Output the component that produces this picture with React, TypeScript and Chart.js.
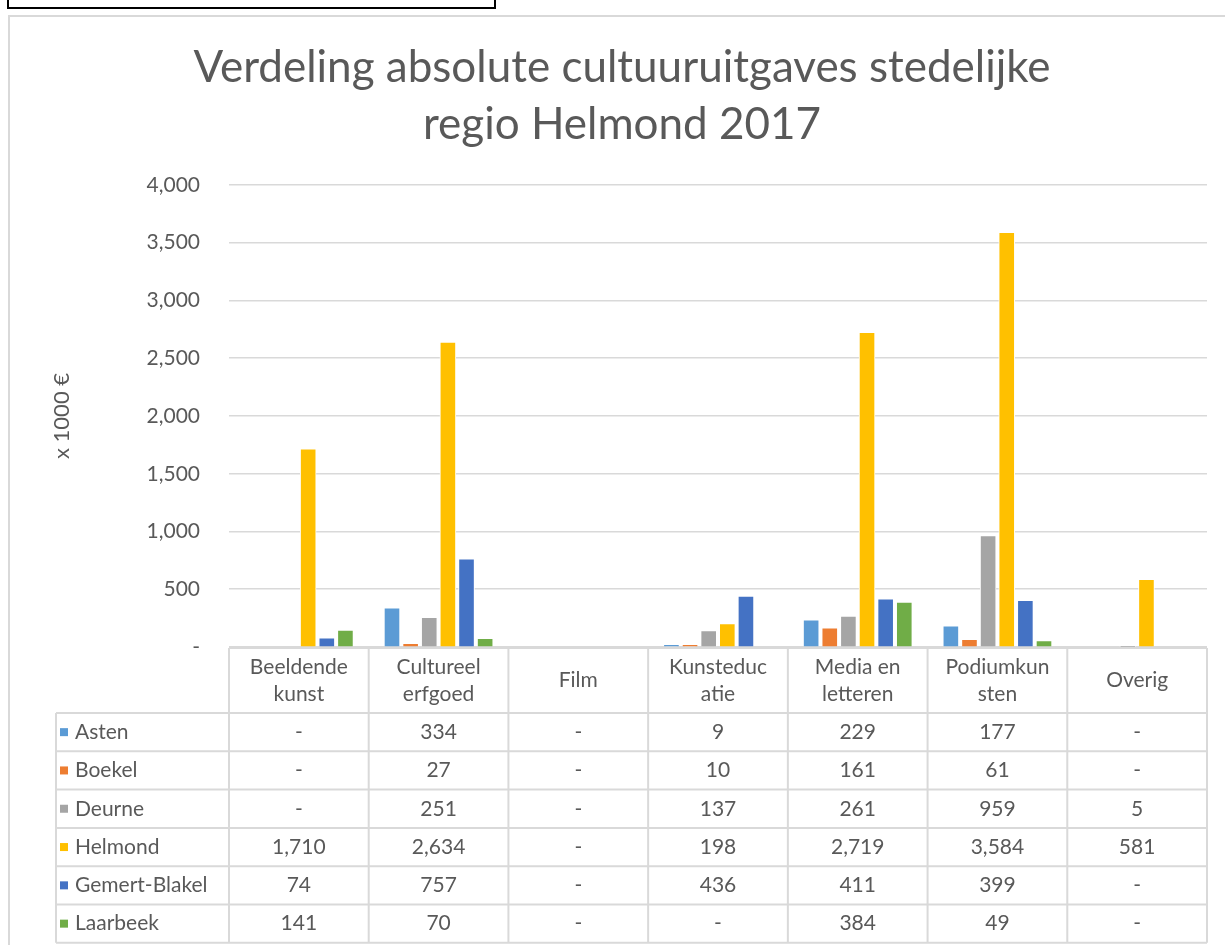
import React, { useEffect, useRef } from "react";
import { Chart, registerables } from "chart.js";

Chart.register(...registerables);

const titleLines = ["Verdeling absolute cultuuruitgaves stedelijke", "regio Helmond 2017"];
const yAxisTitle = "x 1000 €";
const categories = [
  ["Beeldende", "kunst"],
  ["Cultureel", "erfgoed"],
  ["Film"],
  ["Kunsteduc", "atie"],
  ["Media en", "letteren"],
  ["Podiumkun", "sten"],
  ["Overig"],
];
const seriesNames = ["Asten", "Boekel", "Deurne", "Helmond", "Gemert-Blakel", "Laarbeek"];
const seriesColors = ["#5B9BD5", "#ED7D31", "#A5A5A5", "#FFC000", "#4472C4", "#70AD47"];
const asten = [null, 334, null, 9, 229, 177, null];
const boekel = [null, 27, null, 10, 161, 61, null];
const deurne = [null, 251, null, 137, 261, 959, 5];
const helmond = [1710, 2634, null, 198, 2719, 3584, 581];
const gemertBakel = [74, 757, null, 436, 411, 399, null];
const laarbeek = [141, 70, null, null, 384, 49, null];
const seriesValues = [asten, boekel, deurne, helmond, gemertBakel, laarbeek];
const yMin = 0;
const yMax = 4000;
const yStep = 500;

const FONT = "Lato, 'Open Sans', sans-serif";
const TEXT = "#595959";
const LINE = "#D9D9D9";

const fmt = (v: number | null) => (v === null || v === 0 ? "-" : v.toLocaleString("en-US"));

const tablePlugin = {
  id: "dataTable",
  afterDraw(chart: any) {
    const { ctx, chartArea } = chart;
    const n = categories.length;
    const colW = (chartArea.right - chartArea.left) / n;
    const top = chartArea.bottom + 1;
    const headerH = 65;
    const rowH = 38.3;
    const labelLeft = 46;
    const nRows = seriesNames.length;
    const bottom = top + headerH + rowH * nRows;
    ctx.save();
    ctx.strokeStyle = LINE;
    ctx.lineWidth = 2;
    ctx.beginPath();
    ctx.moveTo(chartArea.left, top);
    ctx.lineTo(chartArea.right, top);
    for (let i = 0; i <= n; i++) {
      const x = chartArea.left + i * colW;
      ctx.moveTo(x, top);
      ctx.lineTo(x, bottom);
    }
    ctx.moveTo(labelLeft, top + headerH);
    ctx.lineTo(labelLeft, bottom);
    for (let r = 0; r <= nRows; r++) {
      const y = top + headerH + r * rowH;
      ctx.moveTo(labelLeft, y);
      ctx.lineTo(chartArea.right, y);
    }
    ctx.stroke();

    ctx.fillStyle = TEXT;
    ctx.font = `21px ${FONT}`;
    ctx.textAlign = "center";
    ctx.textBaseline = "middle";
    const lh = 27;
    categories.forEach((lines, i) => {
      const cx = chartArea.left + (i + 0.5) * colW;
      const cy = top + headerH / 2;
      lines.forEach((t, k) => {
        ctx.fillText(t, cx, cy + (k - (lines.length - 1) / 2) * lh);
      });
    });
    seriesNames.forEach((name, r) => {
      const cy = top + headerH + (r + 0.5) * rowH;
      ctx.fillStyle = seriesColors[r];
      ctx.fillRect(labelLeft + 4, cy - 4, 8, 8);
      ctx.fillStyle = TEXT;
      ctx.textAlign = "left";
      ctx.fillText(name, labelLeft + 19, cy);
      ctx.textAlign = "center";
      seriesValues[r].forEach((v, i) => {
        const cx = chartArea.left + (i + 0.5) * colW;
        ctx.fillText(fmt(v), cx, cy);
      });
    });
    ctx.restore();
  },
};

export default function App() {
  const ref = useRef<HTMLCanvasElement | null>(null);
  useEffect(() => {
    if (!ref.current) return;
    const chart = new Chart(ref.current, {
      type: "bar",
      data: {
        labels: categories.map((c) => c.join(" ")),
        datasets: seriesNames.map((name, i) => ({
          label: name,
          data: seriesValues[i],
          backgroundColor: seriesColors[i],
          borderColor: "#ffffff",
          borderWidth: 1,
          inflateAmount: 1,
          categoryPercentage: 0.8,
          barPercentage: 0.785,
        })),
      },
      options: {
        animation: false,
        responsive: false,
        maintainAspectRatio: false,
        layout: { padding: { left: 27, right: 18, top: 0, bottom: 298 } },
        plugins: {
          legend: { display: false },
          tooltip: { enabled: false },
          title: {
            display: true,
            text: titleLines,
            color: TEXT,
            font: { family: FONT, size: 44, weight: "normal", lineHeight: 1.295 },
            padding: { top: 22.5, bottom: 31.5 },
          },
        },
        scales: {
          x: {
            display: false,
          },
          y: {
            min: yMin,
            max: yMax,
            afterFit: (scale: any) => {
              scale.width = 192;
            },
            border: { display: false },
            grid: { color: LINE, lineWidth: 1.5, drawTicks: false },
            ticks: {
              stepSize: yStep,
              padding: 29,
              color: TEXT,
              font: { family: FONT, size: 21 },
              callback: (v: any) => (Number(v) === 0 ? "-" : Number(v).toLocaleString("en-US")),
            },
            title: {
              display: true,
              text: yAxisTitle,
              color: TEXT,
              font: { family: FONT, size: 22 },
              padding: { top: 12, bottom: 0 },
            },
          },
        },
      },
      plugins: [tablePlugin],
    });
    return () => chart.destroy();
  }, []);

  return (
    <div style={{ position: "absolute", left: 0, top: 0, width: 1225, height: 945, overflow: "hidden", background: "#fff" }}>
      <div style={{ position: "absolute", left: 7, top: -2, width: 489, height: 11, border: "2px solid #000", boxSizing: "border-box" }} />
      <div style={{ position: "absolute", left: 8, top: 15, width: 1300, height: 1000, border: "2px solid #D9D9D9", boxSizing: "border-box" }}>
        <canvas ref={ref} width={1215} height={928} style={{ position: "absolute", left: 0, top: 0, width: 1215, height: 928 }} />
      </div>
    </div>
  );
}
